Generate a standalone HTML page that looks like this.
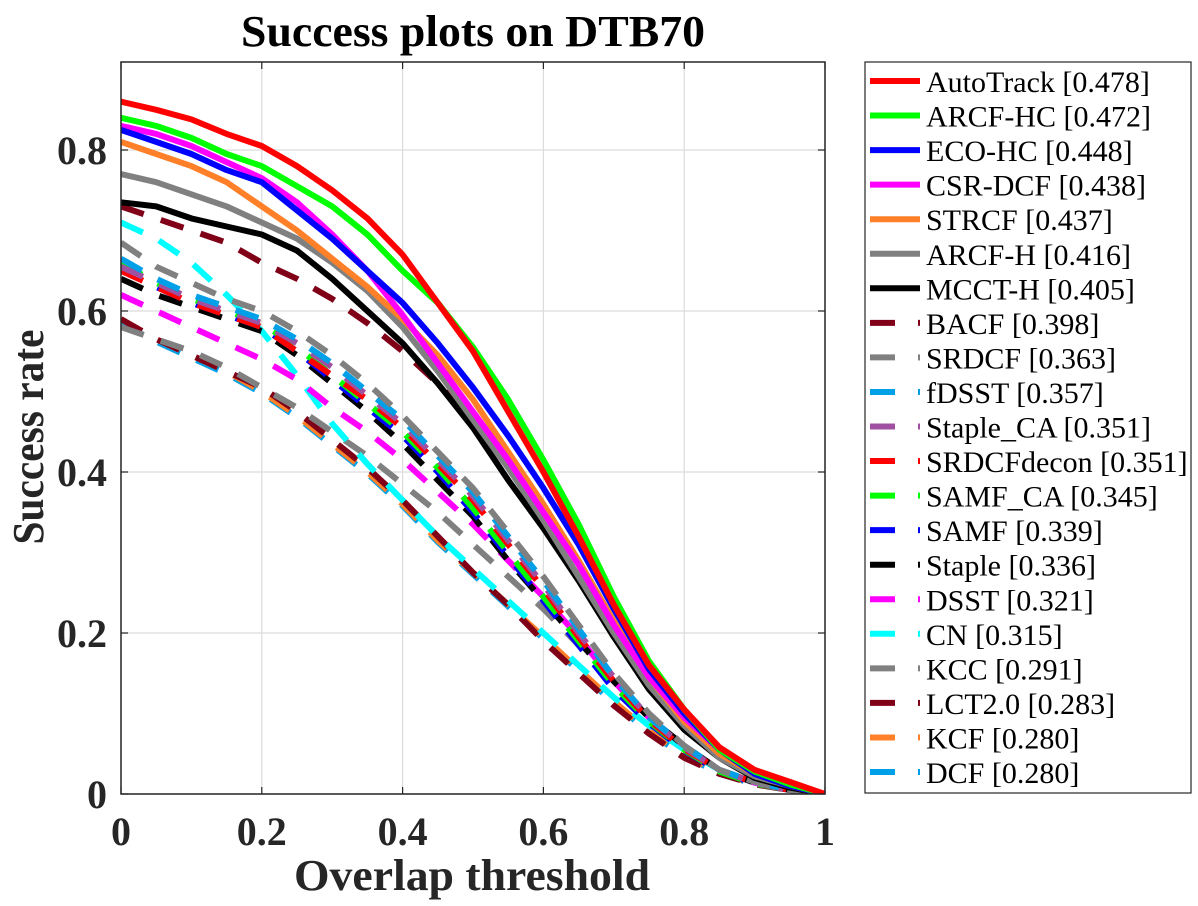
<!DOCTYPE html>
<html><head><meta charset="utf-8"><style>
html,body{margin:0;padding:0;background:#fff;}
svg{display:block;font-family:"Liberation Serif",serif;}
</style></head><body>
<svg id="chart" width="1198" height="906" viewBox="0 0 1198 906" xmlns="http://www.w3.org/2000/svg">
<text x="473" y="46" text-anchor="middle" font-size="44" font-weight="bold" textLength="464" lengthAdjust="spacingAndGlyphs">Success plots on DTB70</text>
<g id="grid"></g>
<g id="ticks"></g>
<defs><clipPath id="clip"><rect x="121" y="62" width="704" height="732"/></clipPath></defs>
<g id="series" clip-path="url(#clip)"></g>
<rect x="121" y="62" width="704" height="732" fill="none" stroke="#262626" stroke-width="1.5"/>
<text x="472" y="890" text-anchor="middle" font-size="44" font-weight="bold" fill="#262626" textLength="356" lengthAdjust="spacingAndGlyphs">Overlap threshold</text>
<text transform="translate(43,437) rotate(-90)" text-anchor="middle" font-size="44" font-weight="bold" fill="#262626" textLength="215" lengthAdjust="spacingAndGlyphs">Success rate</text>
<g id="legend">
<rect x="865" y="62" width="326" height="731" fill="#fff" stroke="#262626" stroke-width="1.2"/>
</g>
</svg>
<script>
const xs=[0,0.05,0.1,0.15,0.2,0.25,0.3,0.35,0.4,0.45,0.5,0.55,0.6,0.65,0.7,0.75,0.8,0.85,0.9,0.95,1];
const xTicks=[0,0.2,0.4,0.6,0.8,1];
const yTicks=[0,0.2,0.4,0.6,0.8];
const xTickLabels=["0","0.2","0.4","0.6","0.8","1"];
const yTickLabels=["0","0.2","0.4","0.6","0.8"];
const names=["AutoTrack [0.478]","ARCF-HC [0.472]","ECO-HC [0.448]","CSR-DCF [0.438]","STRCF [0.437]","ARCF-H [0.416]","MCCT-H [0.405]","BACF [0.398]","SRDCF [0.363]","fDSST [0.357]","Staple_CA [0.351]","SRDCFdecon [0.351]","SAMF_CA [0.345]","SAMF [0.339]","Staple [0.336]","DSST [0.321]","CN [0.315]","KCC [0.291]","LCT2.0 [0.283]","KCF [0.280]","DCF [0.280]"];
const colors=["#ff0000","#00ff00","#0000ff","#ff00ff","#ff8028","#808080","#000000","#800018","#808080","#00a0e8","#a050a0","#ff0000","#00ff00","#0000ff","#000000","#ff00ff","#00ffff","#808080","#800018","#ff8028","#00a0e8"];
const dashed=[false,false,false,false,false,false,false,true,true,true,true,true,true,true,true,true,true,true,true,true,true];
const sAutoTrack=[0.86,0.85,0.838,0.82,0.805,0.78,0.75,0.715,0.67,0.61,0.55,0.475,0.40,0.32,0.235,0.16,0.105,0.058,0.03,0.015,0];
const sARCFHC=[0.84,0.83,0.815,0.795,0.78,0.755,0.73,0.695,0.65,0.61,0.555,0.49,0.415,0.335,0.245,0.165,0.105,0.055,0.028,0.012,0];
const sECOHC=[0.825,0.81,0.795,0.775,0.76,0.725,0.69,0.65,0.61,0.56,0.505,0.445,0.38,0.31,0.23,0.155,0.1,0.055,0.025,0.01,0];
const sCSRDCF=[0.83,0.82,0.805,0.785,0.765,0.735,0.695,0.65,0.595,0.535,0.475,0.415,0.35,0.285,0.21,0.145,0.095,0.055,0.028,0.012,0];
const sSTRCF=[0.81,0.795,0.78,0.76,0.73,0.7,0.665,0.63,0.59,0.545,0.49,0.425,0.36,0.29,0.215,0.145,0.09,0.05,0.025,0.01,0];
const sARCFH=[0.77,0.76,0.745,0.73,0.71,0.69,0.66,0.625,0.58,0.525,0.465,0.405,0.34,0.27,0.2,0.135,0.085,0.045,0.022,0.01,0];
const sMCCTH=[0.735,0.73,0.715,0.705,0.695,0.675,0.64,0.6,0.56,0.51,0.455,0.39,0.33,0.265,0.195,0.13,0.08,0.045,0.02,0.008,0];
const sBACF=[0.73,0.715,0.7,0.685,0.66,0.64,0.615,0.585,0.55,0.51,0.465,0.41,0.35,0.285,0.21,0.14,0.085,0.045,0.02,0.008,0];
const sSRDCF=[0.685,0.655,0.635,0.615,0.6,0.575,0.545,0.51,0.47,0.425,0.38,0.325,0.27,0.21,0.15,0.1,0.06,0.03,0.015,0.005,0];
const sfDSST=[0.665,0.64,0.62,0.605,0.59,0.565,0.535,0.5,0.465,0.42,0.375,0.32,0.265,0.205,0.145,0.095,0.06,0.03,0.015,0.005,0];
const sStapleCA=[0.655,0.635,0.615,0.6,0.585,0.56,0.53,0.495,0.46,0.415,0.37,0.315,0.26,0.2,0.145,0.095,0.058,0.03,0.014,0.005,0];
const sSRDCFdecon=[0.65,0.63,0.61,0.595,0.58,0.55,0.52,0.49,0.455,0.41,0.365,0.31,0.255,0.195,0.14,0.092,0.056,0.03,0.014,0.005,0];
const sSAMFCA=[0.66,0.635,0.615,0.6,0.585,0.555,0.52,0.485,0.45,0.405,0.355,0.3,0.245,0.19,0.135,0.09,0.055,0.028,0.013,0.005,0];
const sSAMF=[0.655,0.63,0.61,0.595,0.58,0.55,0.515,0.48,0.445,0.4,0.35,0.295,0.24,0.185,0.13,0.088,0.054,0.028,0.013,0.005,0];
const sStaple=[0.64,0.62,0.605,0.59,0.575,0.545,0.51,0.475,0.435,0.39,0.345,0.29,0.24,0.19,0.14,0.095,0.06,0.03,0.014,0.005,0];
const sDSST=[0.62,0.6,0.58,0.56,0.54,0.515,0.48,0.45,0.415,0.375,0.335,0.29,0.245,0.195,0.14,0.095,0.06,0.03,0.014,0.005,0];
const sCN=[0.71,0.69,0.66,0.62,0.575,0.52,0.46,0.41,0.365,0.32,0.28,0.24,0.2,0.16,0.12,0.085,0.055,0.03,0.014,0.005,0];
const sKCC=[0.58,0.565,0.55,0.53,0.505,0.48,0.45,0.42,0.385,0.35,0.31,0.27,0.23,0.185,0.135,0.09,0.055,0.028,0.013,0.005,0];
const sLCT=[0.59,0.565,0.545,0.525,0.505,0.475,0.44,0.405,0.365,0.32,0.275,0.235,0.19,0.15,0.11,0.075,0.045,0.025,0.012,0.005,0];
const sKCF=[0.59,0.565,0.545,0.525,0.5,0.47,0.435,0.4,0.36,0.315,0.275,0.235,0.195,0.155,0.115,0.078,0.048,0.026,0.012,0.005,0];
const sDCF=[0.585,0.562,0.542,0.522,0.498,0.468,0.433,0.398,0.358,0.313,0.273,0.233,0.193,0.153,0.113,0.077,0.047,0.026,0.012,0.005,0];
const allSeries=[sAutoTrack,sARCFHC,sECOHC,sCSRDCF,sSTRCF,sARCFH,sMCCTH,sBACF,sSRDCF,sfDSST,sStapleCA,sSRDCFdecon,sSAMFCA,sSAMF,sStaple,sDSST,sCN,sKCC,sLCT,sKCF,sDCF];

const NS="http://www.w3.org/2000/svg";
const X0=121,X1=825,Y0=794,YPER=805;
function xScale(v){return X0+(X1-X0)*v;}
function yScale(v){return Y0-YPER*v;}
function mk(tag,attrs,parent){const e=document.createElementNS(NS,tag);for(const k in attrs)e.setAttribute(k,attrs[k]);parent.appendChild(e);return e;}
const grid=document.getElementById('grid'),ticks=document.getElementById('ticks'),ser=document.getElementById('series'),leg=document.getElementById('legend');
xTicks.forEach((t,i)=>{
  const x=xScale(t);
  const g=mk('line',{x1:x,x2:x,y1:62,y2:794,stroke:'#dcdcdc','stroke-width':1.2},grid);
  
  
  const tk=mk('line',{x1:x,x2:x,y1:794,y2:787,stroke:'#262626','stroke-width':1.2},ticks);
  
  
  const tk2=mk('line',{x1:x,x2:x,y1:62,y2:69,stroke:'#262626','stroke-width':1.2},ticks);
  
  
  const tx=mk('text',{x:x,y:845,'text-anchor':'middle','font-size':40,'font-weight':'bold',fill:'#262626'},ticks);
  tx.textContent=xTickLabels[i];
  
  
});
yTicks.forEach((t,i)=>{
  const y=yScale(t);
  const g=mk('line',{x1:121,x2:825,y1:y,y2:y,stroke:'#dcdcdc','stroke-width':1.2},grid);
  
  
  const tk=mk('line',{x1:121,x2:128,y1:y,y2:y,stroke:'#262626','stroke-width':1.2},ticks);
  
  
  const tk2=mk('line',{x1:818,x2:825,y1:y,y2:y,stroke:'#262626','stroke-width':1.2},ticks);
  
  
  const tx=mk('text',{x:107,y:y+14,'text-anchor':'end','font-size':40,'font-weight':'bold',fill:'#262626'},ticks);
  tx.textContent=yTickLabels[i];
  
  
});
for(let i=allSeries.length-1;i>=0;i--){
  const d=allSeries[i].map((v,j)=>(j?'L':'M')+xScale(xs[j]).toFixed(1)+' '+yScale(v).toFixed(1)).join(' ');
  const p=mk('path',{d:d,fill:'none',stroke:colors[i],'stroke-width':6,'stroke-linejoin':'round'},ser);
  if(dashed[i])p.setAttribute('stroke-dasharray','24 18');
  
  
}
names.forEach((n,i)=>{
  const y=81+i*34.55;
  const g=mk('g',{},leg);
  
  
  if(dashed[i]){
    mk('line',{x1:870,x2:895,y1:y,y2:y,stroke:colors[i],'stroke-width':6},g);
    mk('line',{x1:918,x2:920,y1:y,y2:y,stroke:colors[i],'stroke-width':6},g);
  }else{
    mk('line',{x1:870,x2:920,y1:y,y2:y,stroke:colors[i],'stroke-width':6},g);
  }
  const t=mk('text',{x:926,y:y+11,'font-size':30,fill:'#000'},g);
  t.textContent=n;
});
</script>
</body></html>
